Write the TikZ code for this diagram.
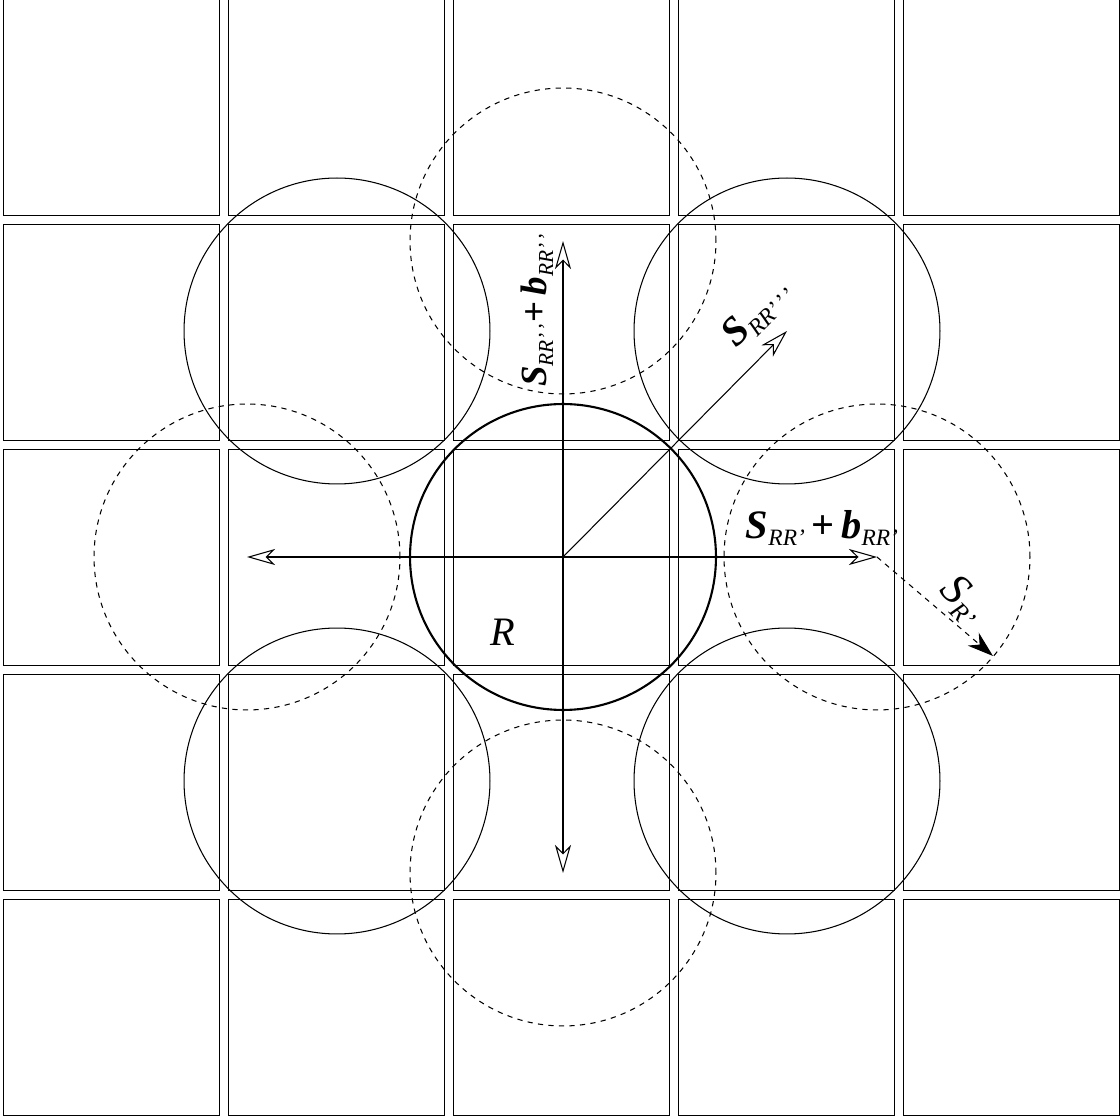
\documentclass[tikz,border=0pt]{standalone}
\usepackage{fontspec}
\setmainfont{Liberation Serif}
\usetikzlibrary{arrows.meta}

\newcommand{\bsym}[1]{\textbf{\textit{#1}}}
\newcommand{\lowidx}[1]{\raisebox{-0.4ex}{\scalebox{0.58}{\textit{#1}}}}
\newcommand{\pr}{’\kern0.08em}

\begin{document}
\begin{tikzpicture}[x=0.02cm,y=-0.02cm,
  >={Stealth[open,length=5.6mm,width=3.2mm,inset=1.6mm]},
  cell/.style={draw,line width=0.5pt},
  ring/.style={circle,draw,line width=0.6pt,minimum size=6.12cm,inner sep=0pt},
  vec/.style={->,line width=0.6pt}]
  \useasboundingbox (0,0) rectangle (1120,1118);

  % grid of cells
  \foreach \i in {0,...,4}
    \foreach \j in {0,...,4}
      \draw[cell] (3+225*\i,-1+225*\j) rectangle ++(216,216);

  % central cell and its neighbours
  \node[ring,line width=1.2pt] (R) at (563,557) {};
  \node[ring,dashed] (east) at (877,557) {};
  \node[ring,dashed] (west) at (247,557) {};
  \node[ring,dashed] (north) at (563,241) {};
  \node[ring,dashed] (south) at (563,873) {};
  \node[ring] (ne) at (787,331) {};
  \node[ring] (nw) at (337,331) {};
  \node[ring] (se) at (787,781) {};
  \node[ring] (sw) at (337,781) {};
  \coordinate (shift) at (993,656);

  \draw[vec] (R.center) -- (north.center);
  \draw[vec] (R.center) -- (south.center);
  \draw[vec] (R.center) -- (west.center);
  \draw[vec] (R.center) -- (east.center);
  \draw[vec] (R.center) -- (ne.center);
  \draw[dashed,line width=0.6pt,-{Stealth[length=5.2mm,width=3.4mm]}] (east.center) -- (shift);

  % labels
  \node[rotate=90,font=\fontsize{21}{24}\selectfont] (lblN) at (537,310)
    {\bsym{S}\lowidx{RR\pr\pr}\textbf{+}\,\bsym{b}\lowidx{RR\pr\pr}};
  \node[rotate=45,font=\fontsize{23}{26}\selectfont] (lblNE) at (758,313)
    {\bsym{S}\lowidx{RR\pr\pr\pr}};
  \node[font=\fontsize{23}{26}\selectfont] (lblE) at (822,528)
    {\bsym{S}\lowidx{RR’}\,\textbf{+}\,\bsym{b}\lowidx{RR’}};
  \node[rotate=-45,font=\fontsize{25}{28}\selectfont] (lblS) at (962,600)
    {\textit{S}\lowidx{R’}};
  \node[font=\fontsize{23}{26}\selectfont] (lblR) at (503,632) {\textit{R}};
\end{tikzpicture}
\end{document}
